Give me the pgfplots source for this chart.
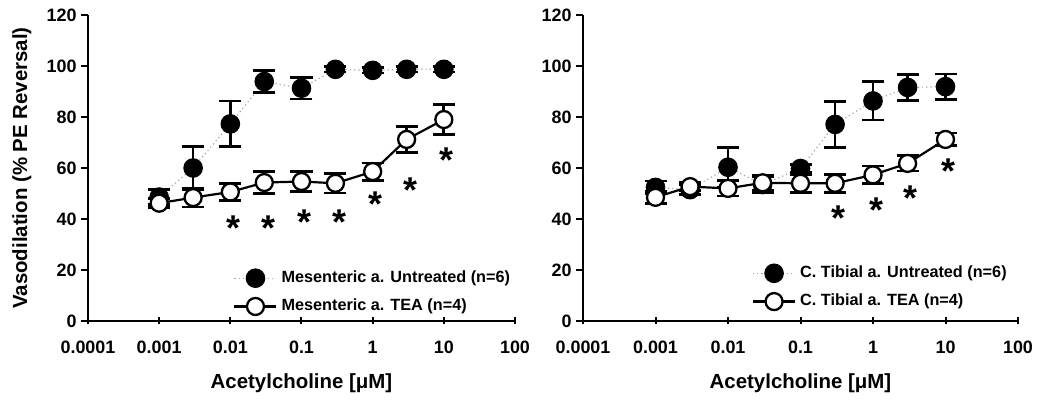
\documentclass[border=0pt]{standalone}
\usepackage{fontspec}
\setmainfont{Liberation Sans}
\usepackage{pgfplots}
\usepackage{pgfplotstable}
\pgfplotsset{compat=1.18}

% mesenteric artery
\pgfplotstableread{
x     y     e
0.001 48.6  3.0
0.003 60.0  8.5
0.01  77.3  9.0
0.03  93.9  4.3
0.1   91.3  4.3
0.3   98.7  1.0
1     98.3  1.0
3     98.7  1.0
10    98.7  1.0
}\mesUnt
\pgfplotstableread{
x     y     e
0.001 46.2  1.8
0.003 48.4  3.7
0.01  50.6  3.3
0.03  54.3  4.4
0.1   54.7  4.0
0.3   54.0  3.8
1     58.6  3.4
3     71.2  5.0
10    79.0  6.0
}\mesTEA
\pgfplotstableread{
x     y
0.011 37.6
0.034 37.6
0.11  40.3
0.34  40.3
1.1   47.0
3.4   52.7
11    64.4
}\mesStar

% caudal tibial artery
\pgfplotstableread{
x     y     e
0.001 52.4  2.5
0.003 51.5  2.0
0.01  60.3  7.7
0.03  53.5  3.0
0.1   59.8  1.5
0.3   77.1  9.0
1     86.3  7.5
3     91.6  5.0
10    91.9  5.0
}\tibUnt
\pgfplotstableread{
x     y     e
0.001 48.5  2.5
0.003 52.7  1.5
0.01  52.0  3.0
0.03  54.2  3.0
0.1   54.0  3.5
0.3   54.0  3.5
1     57.3  3.5
3     61.8  3.0
10    71.2  2.5
}\tibTEA
\pgfplotstableread{
x     y
0.33  41.8
1.1   44.8
3.3   49.4
11    60.1
}\tibStar

\pgfplotsset{
  every axis/.append style={
    scale only axis, height=306bp,
    ymin=0, ymax=120,
    axis lines=left, axis line style={-, line width=2bp},
    ytick={0,20,...,120},
    major tick length=7bp,
    tick style={line width=2bp, black},
    xtick style={yshift=3.5bp},
    tick align=outside,
    tick label style={font=\fontsize{18}{18}\selectfont\bfseries},
    xticklabel style={anchor=base, yshift=-25bp},
    yticklabel style={anchor=east, xshift=-1bp},
    label style={font=\fontsize{20.5}{20.5}\selectfont\bfseries},
    clip=false,
  },
}
\newcommand\legimg[1]{\draw[mark repeat=2, mark phase=2, #1] plot coordinates {(0bp,0bp) (21bp,0bp) (42bp,0bp)};}

\begin{document}
\begin{tikzpicture}
\path[use as bounding box] (0,0) rectangle (1037bp,400bp);

\begin{axis}[width=427bp, at={(88bp,79bp)}, anchor=south west,
    xmode=log, xmin=1e-4, xmax=100,
    xtick={1e-4,1e-3,1e-2,1e-1,1,10,100},
    xticklabels={0.0001,0.001,0.01,0.1,1,10,100},
    xminorticks=false,
    /pgf/number format/assume math mode=true,
    xlabel={Acetylcholine [μM]},
    xlabel style={at={(axis description cs:0.5,0)}, anchor=center, yshift=-62bp},
    ylabel={Vasodilation (\% PE Reversal)},
    ylabel style={at={(axis description cs:-0.155,0.5)}, anchor=center},
    legend style={draw=none, fill=none, inner sep=0pt, column sep=4bp, row sep=10.5bp,
      font=\fontsize{16.3}{16.3}\selectfont\bfseries,
      nodes={inner sep=0pt, text height=11.5bp, text depth=3bp},
      cells={anchor=west}, anchor=west, at={(0.34,0.095)}},
    legend image code/.code={\legimg{#1}}]
\addplot[gray!70, line width=1.2bp, dash pattern=on 1.2bp off 3bp,
    mark=*, mark size=9.3bp, mark options={solid, fill=black, draw=black, line width=1bp},
    error bars/.cd, y dir=both, y explicit,
    error bar style={solid, black, line width=2.7bp},
    error mark options={solid, black, line width=2.7bp, mark size=11bp, rotate=90}]
  table[x=x, y=y, y error=e] {\mesUnt};
\addlegendentry{Mesenteric a. Untreated (n=6)}
\addplot[black, line width=2.2bp,
    mark=*, mark size=8.5bp, mark options={solid, fill=white, draw=black, line width=2.3bp},
    error bars/.cd, y dir=both, y explicit,
    error bar style={solid, black, line width=2.7bp},
    error mark options={solid, black, line width=2.7bp, mark size=11bp, rotate=90}]
  table[x=x, y=y, y error=e] {\mesTEA};
\addlegendentry{Mesenteric a. TEA (n=4)}
\addplot[only marks, mark=none, forget plot, nodes near coords={*},
    every node near coord/.style={font=\fontsize{36}{36}\selectfont\bfseries,
      anchor=center, yshift=-3.5bp, black, inner sep=0pt}]
  table[x=x, y=y] {\mesStar};
\end{axis}

\begin{axis}[width=435bp, at={(583bp,79bp)}, anchor=south west,
    xmode=log, xmin=1e-4, xmax=100,
    xtick={1e-4,1e-3,1e-2,1e-1,1,10,100},
    xticklabels={0.0001,0.001,0.01,0.1,1,10,100},
    xminorticks=false,
    /pgf/number format/assume math mode=true,
    xlabel={Acetylcholine [μM]},
    xlabel style={at={(axis description cs:0.5,0)}, anchor=center, yshift=-62bp},
    legend style={draw=none, fill=none, inner sep=0pt, column sep=4bp, row sep=10.5bp,
      font=\fontsize{16.3}{16.3}\selectfont\bfseries,
      nodes={inner sep=0pt, text height=11.5bp, text depth=3bp},
      cells={anchor=west}, anchor=west, at={(0.388,0.111)}},
    legend image code/.code={\legimg{#1}}]
\addplot[gray!70, line width=1.2bp, dash pattern=on 1.2bp off 3bp,
    mark=*, mark size=9.3bp, mark options={solid, fill=black, draw=black, line width=1bp},
    error bars/.cd, y dir=both, y explicit,
    error bar style={solid, black, line width=2.7bp},
    error mark options={solid, black, line width=2.7bp, mark size=11bp, rotate=90}]
  table[x=x, y=y, y error=e] {\tibUnt};
\addlegendentry{C. Tibial a. Untreated (n=6)}
\addplot[black, line width=2.2bp,
    mark=*, mark size=8.5bp, mark options={solid, fill=white, draw=black, line width=2.3bp},
    error bars/.cd, y dir=both, y explicit,
    error bar style={solid, black, line width=2.7bp},
    error mark options={solid, black, line width=2.7bp, mark size=11bp, rotate=90}]
  table[x=x, y=y, y error=e] {\tibTEA};
\addlegendentry{C. Tibial a. TEA (n=4)}
\addplot[only marks, mark=none, forget plot, nodes near coords={*},
    every node near coord/.style={font=\fontsize{36}{36}\selectfont\bfseries,
      anchor=center, yshift=-3.5bp, black, inner sep=0pt}]
  table[x=x, y=y] {\tibStar};
\end{axis}
\end{tikzpicture}
\end{document}
